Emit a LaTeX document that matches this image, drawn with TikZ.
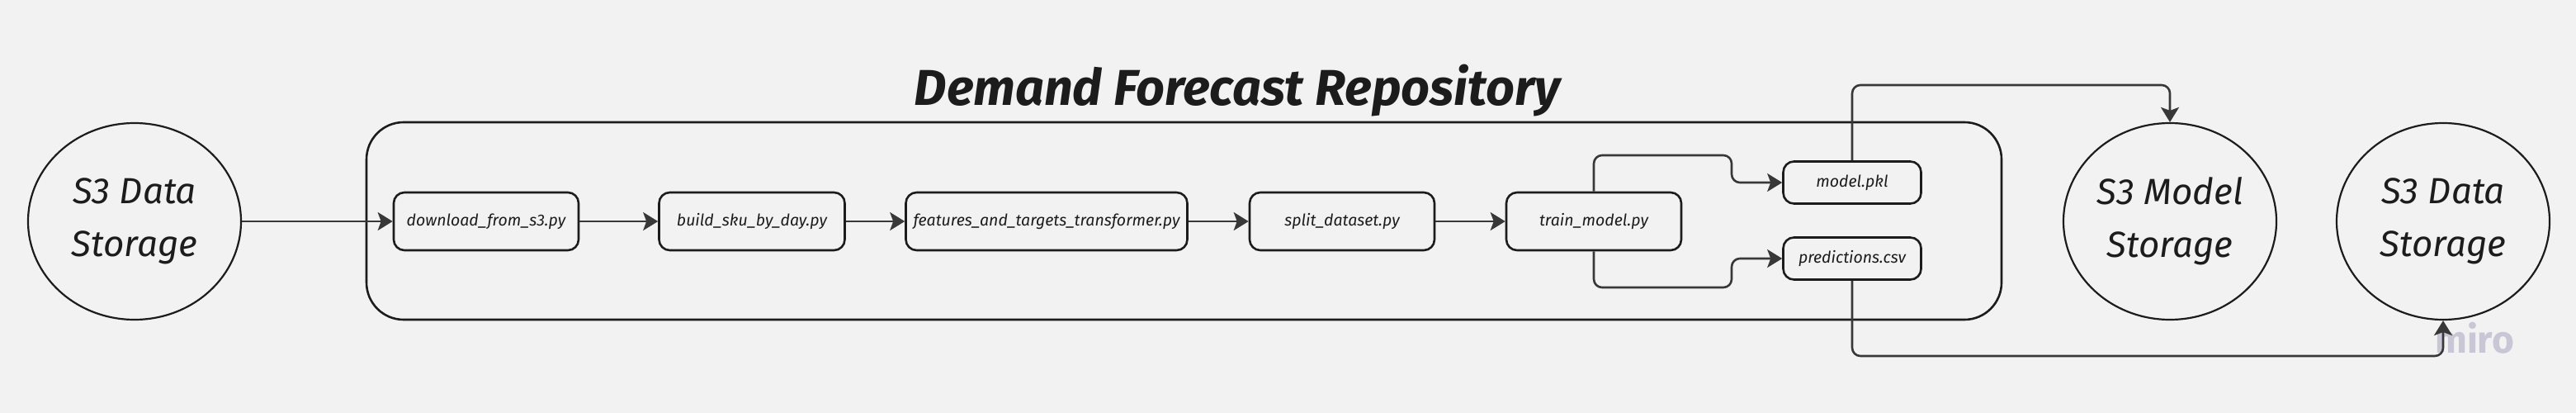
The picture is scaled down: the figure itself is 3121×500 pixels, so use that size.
\documentclass[tikz,border=0pt]{standalone}
\usepackage{fontspec}
\setmainfont{Fira Sans}
\usetikzlibrary{shapes.geometric,arrows.meta}
\definecolor{bgc}{HTML}{F2F2F2}
\definecolor{ink}{HTML}{1C1C1C}
\definecolor{linec}{HTML}{383838}
\definecolor{miroc}{HTML}{C9C7D6}
\tikzset{
  store/.style={ellipse, draw=ink, line width=2.2pt, minimum width=258pt, minimum height=238pt, inner sep=0pt, align=center, text=ink, font=\itshape\fontsize{44}{64}\selectfont},
  script/.style={rectangle, rounded corners=13pt, draw=ink, line width=2.6pt, minimum height=70pt, inner sep=0pt, text=ink, font=\itshape\fontsize{19.5}{22}\selectfont},
  artifact/.style={script, minimum width=167pt, minimum height=51pt},
  container/.style={draw=ink, line width=2.6pt, rounded corners=45pt},
  conn/.style={draw=linec, line width=2.6pt, rounded corners=10pt, -{Stealth[length=18pt,width=22pt,inset=4pt]}},
}
\begin{document}
\begin{tikzpicture}[x=1pt,y=-1pt]
\useasboundingbox (0,0) rectangle (3121,500);
\fill[bgc] (0,0) rectangle (3121,500);
% watermark
\node[text=miroc, font=\bfseries\fontsize{46}{50}\selectfont, anchor=base] (miro) at (2998,427) {miro};
% container and title
\draw[container] (444,148) rectangle (2425,387);
\node[text=ink, font=\bfseries\itshape\fontsize{61}{66}\selectfont, anchor=base] (title) at (1499,128) {Demand Forecast Repository};
% storages
\node[store] (s3in) at (163,268) {S3 Data\\Storage};
\node[store] (ms) at (2629,268) {S3 Model\\Storage};
\node[store] (s3out) at (2960,268) {S3 Data\\Storage};
% scripts
\node[script, minimum width=224pt] (dl) at (589,268) {download\_from\_s3.py};
\node[script, minimum width=225pt] (bs) at (911,268) {build\_sku\_by\_day.py};
\node[script, minimum width=341pt] (ft) at (1268,268) {features\_and\_targets\_transformer.py};
\node[script, minimum width=224pt] (sp) at (1626,268) {split\_dataset.py};
\node[script, minimum width=212pt] (tr) at (1931,268) {train\_model.py};
\node[artifact] (pkl) at (2244,221) {model.pkl};
\node[artifact] (pred) at (2244,313) {predictions.csv};
% bend points
\coordinate (k1) at (2098,188);
\coordinate (k2) at (2098,348);
\coordinate (k3) at (2629,103);
\coordinate (k4) at (2960,431);
% connectors
\draw[conn] (s3in.east) -- (dl.west);
\draw[conn] (dl) -- (bs);
\draw[conn] (bs) -- (ft);
\draw[conn] (ft) -- (sp);
\draw[conn] (sp) -- (tr);
\draw[conn] (tr.north) |- (k1) |- (pkl.west);
\draw[conn] (tr.south) |- (k2) |- (pred.west);
\draw[conn] (pkl.north) |- (k3) -- (ms.north);
\draw[conn] (pred.south) |- (k4) -- (s3out.south);
\end{tikzpicture}
\end{document}
